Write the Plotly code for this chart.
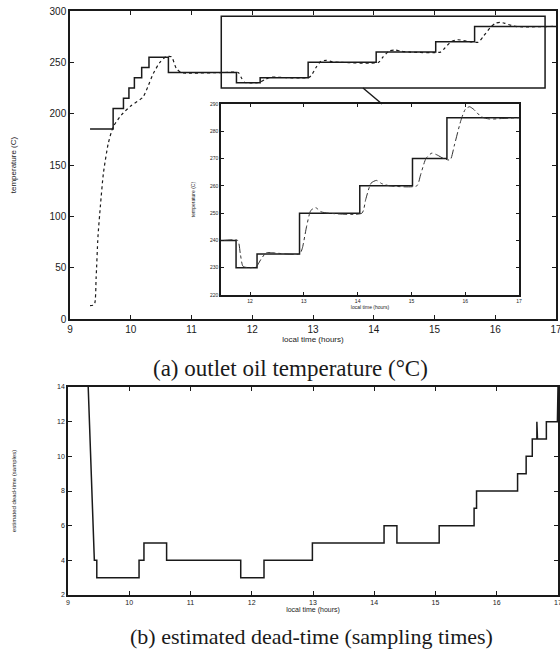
import plotly.graph_objects as go

# ---------------- data ----------------
# (a) outlet oil temperature: setpoint (solid, step) and measured output (dotted)
sp_t = [9.33, 9.71, 9.88, 9.97, 10.06, 10.18, 10.30, 10.62, 11.74, 12.13, 12.92, 14.04, 15.02, 15.66, 17.0]
sp_v = [185, 205, 215, 225, 235, 245, 255, 240, 230, 235, 250, 260, 270, 285, 285]

out_t = [9.33, 9.40, 9.43, 9.46, 9.50, 9.55, 9.63, 9.71, 9.85, 10.01, 10.20, 10.28, 10.37, 10.48,
         10.58, 10.67, 10.75, 10.83, 11.0, 11.5, 11.77, 11.82, 11.87, 12.0, 12.12, 12.2, 12.3, 12.4,
         12.92, 12.97, 13.05, 13.13, 13.22, 13.32, 13.45, 14.08, 14.15, 14.25, 14.35, 14.45, 14.6,
         15.1, 15.17, 15.27, 15.38, 15.48, 15.6, 15.72, 15.8, 15.92, 16.0, 16.08, 16.16, 16.3, 16.45,
         16.7, 17.0]
out_v = [13, 14, 40, 80, 110, 142, 171, 187, 199, 208, 216, 226, 239, 250,
         255.5, 255.5, 244, 240, 239.5, 240, 240, 235, 230.5, 230, 230.5, 233, 235.5, 235.5,
         235, 237, 245, 251, 252, 250.5, 250, 250, 255, 261, 262, 260.8, 260,
         260, 264, 270, 272, 271.3, 270, 269.5, 275, 284, 288, 289, 288, 285.3, 284.5,
         284.7, 285]

# zoom window shown in the inset
zoom_t = [11.46, 17.0]
zoom_v = [220, 290]
box_t = [11.49, 16.82]
box_v = [225, 295]

temp_ticks = [0, 50, 100, 150, 200, 250, 300]
inset_ticks = [220, 230, 240, 250, 260, 270, 280, 290]
time_ticks = [9, 10, 11, 12, 13, 14, 15, 16, 17]
inset_time_ticks = [12, 13, 14, 15, 16, 17]

# (b) estimated dead-time (sampling times)
dt_t = [9.33, 9.43, 9.47, 10.16, 10.24, 10.61, 11.82, 12.20, 12.99, 14.16, 14.37, 15.06, 15.63,
        15.67, 16.34, 16.48, 16.58, 16.655, 16.665, 16.81, 16.99, 17.0]
dt_v = [14, 4, 3, 4, 5, 4, 3, 4, 5, 6, 5, 6, 7,
        8, 9, 10, 11, 12, 11, 12, 13, 14]
dead_ticks = [2, 4, 6, 8, 10, 12, 14]

# ---------------- figure ----------------
W, H = 560, 655
def px(x): return x / W
def py(y): return 1 - y / H

fig = go.Figure()
ink = "#1a1a1a"

# step path for dead-time (first segment slanted, then steps)
dt_x, dt_y = [dt_t[0], dt_t[1]], [dt_v[0], dt_v[1]]
for i in range(1, len(dt_t) - 1):
    dt_x += [dt_t[i + 1], dt_t[i + 1]]
    dt_y += [dt_v[i], dt_v[i + 1]]

# main (a)
fig.add_trace(go.Scatter(x=sp_t, y=sp_v, mode="lines", line=dict(color=ink, width=1.5, shape="hv"),
                         xaxis="x", yaxis="y", showlegend=False))
fig.add_trace(go.Scatter(x=out_t, y=out_v, mode="lines", line=dict(color=ink, width=1.2, dash="dot", shape="spline", smoothing=0.6),
                         xaxis="x", yaxis="y", showlegend=False))
# inset
fig.add_trace(go.Scatter(x=sp_t, y=sp_v, mode="lines", line=dict(color=ink, width=1.5, shape="hv"),
                         xaxis="x2", yaxis="y2", showlegend=False))
fig.add_trace(go.Scatter(x=out_t, y=out_v, mode="lines", line=dict(color="#333", width=1.0, dash="dashdot", shape="spline", smoothing=0.6),
                         xaxis="x2", yaxis="y2", showlegend=False))
# (b)
fig.add_trace(go.Scatter(x=dt_x, y=dt_y, mode="lines", line=dict(color=ink, width=1.5),
                         xaxis="x3", yaxis="y3", showlegend=False))

def axstyle(fs, ticklen=4):
    return dict(showgrid=False, zeroline=False, showline=True, linecolor=ink, linewidth=1.5,
                mirror="allticks", ticks="inside", ticklen=ticklen, tickcolor=ink,
                ticklabeloverflow="allow",
                tickfont=dict(family="Liberation Sans", size=fs, color=ink), automargin=False)

def ttl(text, fs, standoff):
    return dict(text=text, font=dict(family="Liberation Sans", size=fs, color=ink), standoff=standoff)

fig.update_layout(
    width=W, height=H, margin=dict(l=0, r=0, t=0, b=0, autoexpand=False),
    paper_bgcolor="white", plot_bgcolor="white",
    xaxis=dict(domain=[px(70), px(556)], range=[9, 17], tickvals=time_ticks, anchor="y",
               title=ttl("local time (hours)", 8, 2), **axstyle(10)),
    yaxis=dict(domain=[py(319), py(11)], range=[0, 300], tickvals=temp_ticks, anchor="x",
               title=ttl("temperature (C)", 8, 32), **axstyle(10)),
    xaxis2=dict(domain=[px(221), px(519)], range=zoom_t, tickvals=inset_time_ticks, anchor="y2",
                title=ttl("local time (hours)", 5, 1), **axstyle(5, 3)),
    yaxis2=dict(domain=[py(295), py(104)], range=zoom_v, tickvals=inset_ticks, anchor="x2",
                title=ttl("temperature (C)", 5, 14), **axstyle(5, 3)),
    xaxis3=dict(domain=[px(68), px(558)], range=[9, 17], tickvals=time_ticks, anchor="y3",
                title=ttl("local time (hours)", 7, 0), **axstyle(7)),
    yaxis3=dict(domain=[py(595), py(387)], range=[2, 14], tickvals=dead_ticks, anchor="x3",
                title=ttl("estimated dead-time (samples)", 6, 40), **axstyle(7)),
    shapes=[
        dict(type="rect", xref="x", yref="y", x0=box_t[0], x1=box_t[1], y0=box_v[0], y1=box_v[1],
             line=dict(color=ink, width=1.5), fillcolor="rgba(0,0,0,0)"),
        dict(type="line", xref="paper", yref="paper", x0=px(363), y0=py(88), x1=px(382), y1=py(104),
             line=dict(color=ink, width=1.5)),
    ],
    annotations=[
        dict(text="(a) outlet oil temperature (°C)", xref="paper", yref="paper", x=px(290), y=py(368),
             xanchor="center", yanchor="middle",
             showarrow=False, font=dict(family="Liberation Serif", size=23, color=ink)),
        dict(text="(b) estimated dead-time (sampling times)", xref="paper", yref="paper", x=px(311), y=py(636),
             xanchor="center", yanchor="middle",
             showarrow=False, font=dict(family="Liberation Serif", size=22, color=ink)),
    ],
)

fig.write_html("out.html", config={"displayModeBar": False},
               post_script="document.body.style.margin='0';document.body.style.overflow='hidden';")
